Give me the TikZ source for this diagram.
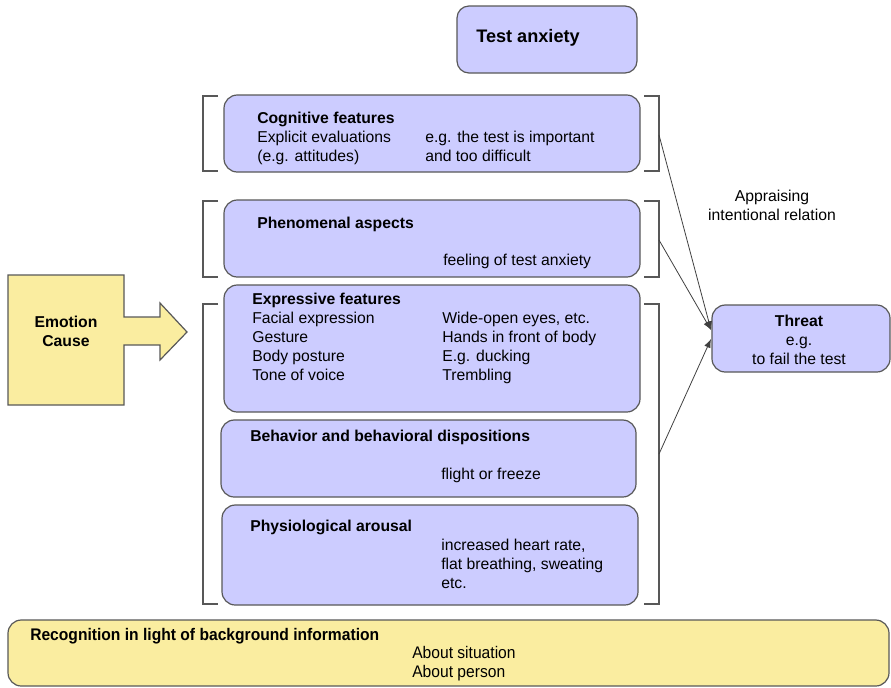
\documentclass[tikz,border=0pt]{standalone}
\usepackage{fontspec}
\setmainfont{Liberation Sans}
\newfontfamily\condfont[FakeStretch=0.93]{Liberation Sans}
\usetikzlibrary{arrows.meta,fit}
\definecolor{lav}{RGB}{204,204,255}
\definecolor{edge}{RGB}{88,88,88}
\definecolor{yel}{RGB}{250,237,160}
\begin{document}
\begin{tikzpicture}[x=0.75pt,y=-0.75pt,
  box/.style={draw=edge, line width=0.9pt, fill=lav, rounded corners=10pt, inner sep=0pt},
  ybox/.style={draw=edge, line width=0.9pt, fill=yel, rounded corners=10pt, inner sep=0pt},
  brk/.style={draw=edge, line width=0.9pt},
  lbl/.style={anchor=base west, inner sep=0pt, font=\fontsize{11.8}{14}\selectfont},
  hd/.style={anchor=base west, inner sep=0pt, font=\bfseries\fontsize{11.8}{14}\selectfont},
  ctr/.style={anchor=base, inner sep=0pt, font=\fontsize{11.8}{14}\selectfont},
  conn/.style={draw=black!75, line width=0.6pt, -{Latex[length=6.5pt,width=5pt]}}
]
\useasboundingbox (0,0) rectangle (891,687);

% top box
\node[box, rounded corners=9pt, fit={(457,6) (637,73)}] (ta) {};
\node[anchor=base west, inner sep=0pt, font=\bfseries\fontsize{13.6}{16}\selectfont] (tat) at (476,42) {Test anxiety};

% feature boxes
\node[box, fit={(224,95) (640,172)}] (cog) {};
\node[box, fit={(224,200) (640,277)}] (phe) {};
\node[box, fit={(224,285) (640,412)}] (exp) {};
\node[box, fit={(221,420) (636,497)}] (beh) {};
\node[box, fit={(222,505) (638,605)}] (phy) {};

% threat box
\node[box, fit={(712,305) (890,372)}] (thr) {};

% recognition box
\node[ybox, fit={(8,620) (889,686)}] (rec) {};

% emotion cause arrow
\draw[draw=edge, line width=0.9pt, fill=yel]
  (8,275) -- (124,275) -- (124,317) -- (160,317) -- (160,303) -- (187,332)
  -- (160,360) -- (160,345) -- (124,345) -- (124,405) -- (8,405) -- cycle;
\node[ctr, font=\bfseries\fontsize{11.8}{14}\selectfont] (ec1) at (66,327) {Emotion};
\node[ctr, font=\bfseries\fontsize{11.8}{14}\selectfont] (ec2) at (66,346) {Cause};

% brackets
\draw[brk] (218,96) -- (203,96) -- (203,171) -- (218,171);
\draw[brk] (644,96) -- (659,96) -- (659,171) -- (644,171);
\draw[brk] (218,201) -- (203,201) -- (203,277) -- (218,277);
\draw[brk] (644,201) -- (659,201) -- (659,277) -- (644,277);
\draw[brk] (218,304) -- (203,304) -- (203,604) -- (218,604);
\draw[brk] (644,304) -- (659,304) -- (659,604) -- (644,604);

\coordinate (bc) at (659,135);
\coordinate (bp) at (659,240);
\coordinate (bb) at (659,454);
\coordinate (t1) at (711,330);
\coordinate (t2) at (711,339);
\draw[conn] (bc) -- (t1);
\draw[conn] (bp) -- (t1);
\draw[conn] (bb) -- (t2);

% cognitive
\node[hd] (c0) at (257,123) {Cognitive features};
\node[lbl] (c1) at (257,142) {Explicit evaluations};
\node[lbl] (c2) at (257,161) {(e.g. attitudes)};
\node[lbl] (c3) at (425,142) {e.g. the test is important};
\node[lbl] (c4) at (425,161) {and too difficult};

% phenomenal
\node[hd] (p0) at (257,228) {Phenomenal aspects};
\node[lbl] (p1) at (443,265) {feeling of test anxiety};

% expressive
\node[hd] (e0) at (252,304) {Expressive features};
\node[lbl] (e1) at (252,323) {Facial expression};
\node[lbl] (e2) at (252,342) {Gesture};
\node[lbl] (e3) at (252,361) {Body posture};
\node[lbl] (e4) at (252,380) {Tone of voice};
\node[lbl] (e5) at (442,323) {Wide-open eyes, etc.};
\node[lbl] (e6) at (442,342) {Hands in front of body};
\node[lbl] (e7) at (442,361) {E.g. ducking};
\node[lbl] (e8) at (442,380) {Trembling};

% behavior
\node[hd] (b0) at (250,441) {Behavior and behavioral dispositions};
\node[lbl] (b1) at (441,479) {flight or freeze};

% physiological
\node[hd] (y0) at (250,531) {Physiological arousal};
\node[lbl] (y1) at (441,550) {increased heart rate,};
\node[lbl] (y2) at (441,569) {flat breathing, sweating};
\node[lbl] (y3) at (441,588) {etc.};

% threat text
\node[ctr, font=\bfseries\fontsize{11.8}{14}\selectfont] (th0) at (799,326) {Threat};
\node[ctr] (th1) at (799,345) {e.g.};
\node[ctr] (th2) at (799,364) {to fail the test};

% appraising
\node[ctr] (ap1) at (772,201) {Appraising};
\node[ctr] (ap2) at (772,220) {intentional relation};

% recognition
\node[anchor=base west, inner sep=0pt, font=\condfont\bfseries\fontsize{12.6}{15}\selectfont] (r0) at (30,640) {Recognition in light of background information};
\node[anchor=base west, inner sep=0pt, font=\condfont\fontsize{12.6}{15}\selectfont] (r1) at (412,658) {About situation};
\node[anchor=base west, inner sep=0pt, font=\condfont\fontsize{12.6}{15}\selectfont] (r2) at (412,677) {About person};
\end{tikzpicture}
\end{document}
